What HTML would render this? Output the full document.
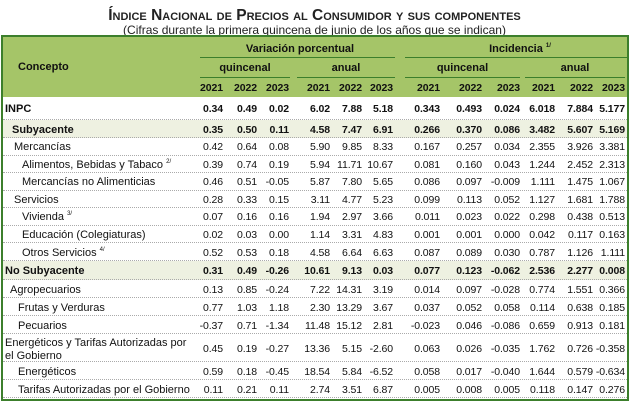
<!DOCTYPE html>
<html><head><meta charset="utf-8">
<style>
body{margin:0;width:629px;height:404px;background:#fff;font-family:"Liberation Sans",Arial,sans-serif;position:relative;overflow:hidden;color:#111}
.a{position:absolute;white-space:nowrap;font-size:11px;line-height:13px}
.n{font-size:10.5px;letter-spacing:-0.1px}
.r{text-align:right}
#title{position:absolute;left:0;width:629px;top:7px;text-align:center;font-weight:bold;font-size:15.5px;font-variant:small-caps;color:#222}
#sub{position:absolute;left:0;width:629px;top:23px;text-align:center;font-size:12px;color:#222}
#box{position:absolute;left:1px;top:35px;width:624px;height:362px;border:2px solid #3c7f2c}
#hdr{position:absolute;left:3px;top:37px;width:624px;height:60px;background:#a5c568}
.hl{position:absolute;height:1px;background:#3c7f2c}
.row{position:absolute;left:3px;width:624px;border-bottom:1px dotted #aaa;box-sizing:border-box}
.b{font-weight:bold}
sup{font-size:6px;line-height:0;position:relative;top:-5px;vertical-align:baseline}
</style></head><body>
<div id="title">Índice Nacional de Precios al Consumidor y sus componentes</div>
<div id="sub">(Cifras durante la primera quincena de junio de los años que se indican)</div>
<div id="hdr"></div>
<div id="box"></div>
<div class="a b" style="left:18px;top:61px">Concepto</div>
<div class="a b" style="left:230px;top:43px;width:140px;text-align:center">Variación porcentual</div>
<div class="a b" style="left:450px;top:43px;width:140px;text-align:center">Incidencia <sup>1/</sup></div>
<div class="hl" style="left:200px;top:57px;width:195px"></div>
<div class="hl" style="left:405px;top:57px;width:222px"></div>
<div class="a b" style="left:200px;top:62px;width:90px;text-align:center">quincenal</div>
<div class="a b" style="left:297px;top:62px;width:98px;text-align:center">anual</div>
<div class="a b" style="left:405px;top:62px;width:115px;text-align:center">quincenal</div>
<div class="a b" style="left:525px;top:62px;width:100px;text-align:center">anual</div>
<div class="hl" style="left:200px;top:77px;width:90px"></div>
<div class="hl" style="left:297px;top:77px;width:98px"></div>
<div class="hl" style="left:405px;top:77px;width:115px"></div>
<div class="hl" style="left:525px;top:77px;width:100px"></div>
<div id="body"></div>
<script>
const years=["2021","2022","2023","2021","2022","2023","2021","2022","2023","2021","2022","2023"];
const labels=["INPC","Subyacente","Mercancías","Alimentos, Bebidas y Tabaco <sup>2/</sup>","Mercancías no Alimenticias","Servicios","Vivienda <sup>3/</sup>","Educación (Colegiaturas)","Otros Servicios <sup>4/</sup>","No Subyacente","Agropecuarios","Frutas y Verduras","Pecuarios","Energéticos y Tarifas Autorizadas por<br>el Gobierno","Energéticos","Tarifas Autorizadas por el Gobierno"];
const values=[
["0.34","0.49","0.02","6.02","7.88","5.18","0.343","0.493","0.024","6.018","7.884","5.177"],
["0.35","0.50","0.11","4.58","7.47","6.91","0.266","0.370","0.086","3.482","5.607","5.169"],
["0.42","0.64","0.08","5.90","9.85","8.33","0.167","0.257","0.034","2.355","3.926","3.381"],
["0.39","0.74","0.19","5.94","11.71","10.67","0.081","0.160","0.043","1.244","2.452","2.313"],
["0.46","0.51","-0.05","5.87","7.80","5.65","0.086","0.097","-0.009","1.111","1.475","1.067"],
["0.28","0.33","0.15","3.11","4.77","5.23","0.099","0.113","0.052","1.127","1.681","1.788"],
["0.07","0.16","0.16","1.94","2.97","3.66","0.011","0.023","0.022","0.298","0.438","0.513"],
["0.02","0.03","0.00","1.14","3.31","4.83","0.001","0.001","0.000","0.042","0.117","0.163"],
["0.52","0.53","0.18","4.58","6.64","6.63","0.087","0.089","0.030","0.787","1.126","1.111"],
["0.31","0.49","-0.26","10.61","9.13","0.03","0.077","0.123","-0.062","2.536","2.277","0.008"],
["0.13","0.85","-0.24","7.22","14.31","3.19","0.014","0.097","-0.028","0.774","1.551","0.366"],
["0.77","1.03","1.18","2.30","13.29","3.67","0.037","0.052","0.058","0.114","0.638","0.185"],
["-0.37","0.71","-1.34","11.48","15.12","2.81","-0.023","0.046","-0.086","0.659","0.913","0.181"],
["0.45","0.19","-0.27","13.36","5.15","-2.60","0.063","0.026","-0.035","1.762","0.726","-0.358"],
["0.59","0.18","-0.45","18.54","5.84","-6.52","0.058","0.017","-0.040","1.644","0.579","-0.634"],
["0.11","0.21","0.11","2.74","3.51","6.87","0.005","0.008","0.005","0.118","0.147","0.276"]];
const heights=[23,18,17.5,17.5,17.5,17.5,17.5,17.5,18,19,18,18,18,28,18,18];
const indents=[5,12,14,22,22,14,22,22,22,5,10,18,18,5,18,18];
const bold=[1,1,0,0,0,0,0,0,0,1,0,0,0,0,0,0];
const shaded=[0,1,0,0,0,0,0,0,0,1,0,0,0,0,0,0];
const colRight=[223,257,289,330,362,393,440,482,520,555,593,625];
const bodyEl=document.getElementById('body');
years.forEach((y,i)=>{
  const d=document.createElement('div');
  d.className='a b r n';d.style.left=(colRight[i]-40)+'px';d.style.width='40px';d.style.top='82px';
  d.textContent=y;
  
  
  bodyEl.appendChild(d);
});
let yPos=97;
labels.forEach((lab,i)=>{
  const h=heights[i];
  const row=document.createElement('div');
  row.className='row';row.style.top=yPos+'px';row.style.height=h+'px';
  if(shaded[i])row.style.background='#eef1e1';
  
  
  bodyEl.appendChild(row);
  const ty=yPos+(h-13)/2+(i==13?-6:0)+1;
  const l=document.createElement('div');
  l.className='a'+(bold[i]?' b':'');l.style.left=indents[i]+'px';l.style.top=ty+'px';
  l.innerHTML=lab;
  
  
  bodyEl.appendChild(l);
  const vy=yPos+(h-13)/2+1;
  values[i].forEach((v,j)=>{
    const c=document.createElement('div');
    c.className='a r n'+(bold[i]?' b':'');c.style.left=(colRight[j]-45)+'px';c.style.width='45px';c.style.top=vy+'px';
    c.textContent=v;
    
    
    bodyEl.appendChild(c);
  });
  yPos+=h;
});
</script>
</body></html>
